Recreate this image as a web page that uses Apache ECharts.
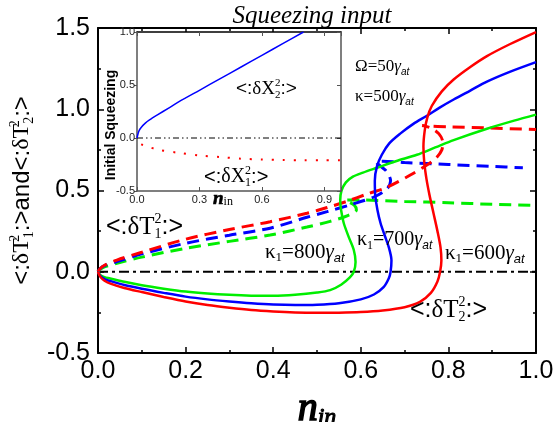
<!DOCTYPE html>
<html>
<head>
<meta charset="utf-8">
<script src="https://cdn.jsdelivr.net/npm/echarts@6/dist/echarts.min.js"></script>
<style>
html, body { margin: 0; padding: 0; background: #fff; }
#chart { width: 554px; height: 422px; }
</style>
</head>
<body>
<div id="chart"></div>
<script>
// <:dT2^2:> (solid), one S-curve per kappa1, points as [n_in, value]
var red600Solid = [[0,0],[0.005,-0.03],[0.015,-0.055],[0.03,-0.075],[0.06,-0.1],[0.1,-0.125],[0.15,-0.155],[0.2,-0.183],[0.25,-0.205],[0.3,-0.222],[0.35,-0.236],[0.4,-0.245],[0.45,-0.251],[0.5,-0.253],[0.55,-0.252],[0.6,-0.248],[0.65,-0.238],[0.7,-0.218],[0.735,-0.185],[0.76,-0.13],[0.775,-0.06],[0.781,0],[0.784,0.07],[0.782,0.15],[0.775,0.25],[0.766,0.36],[0.757,0.47],[0.75,0.57],[0.745,0.67],[0.743,0.77],[0.746,0.87],[0.752,0.95],[0.762,1.02],[0.785,1.11],[0.812,1.183],[0.85,1.26],[0.888,1.327],[0.94,1.4],[1.0,1.475]];
var blue700Solid = [[0,0],[0.005,-0.025],[0.015,-0.045],[0.028,-0.057],[0.06,-0.082],[0.1,-0.105],[0.15,-0.13],[0.2,-0.153],[0.25,-0.17],[0.3,-0.183],[0.35,-0.194],[0.4,-0.202],[0.45,-0.205],[0.5,-0.203],[0.55,-0.194],[0.6,-0.17],[0.63,-0.14],[0.652,-0.095],[0.664,-0.04],[0.668,0],[0.67,0.07],[0.664,0.15],[0.655,0.22],[0.645,0.3],[0.638,0.38],[0.633,0.47],[0.632,0.56],[0.637,0.65],[0.648,0.72],[0.665,0.79],[0.69,0.85],[0.72,0.91],[0.751,0.96],[0.78,1.01],[0.812,1.06],[0.85,1.115],[0.888,1.17],[0.94,1.23],[1.0,1.29]];
var green800Solid = [[0,0],[0.005,-0.02],[0.015,-0.033],[0.028,-0.041],[0.06,-0.062],[0.1,-0.083],[0.15,-0.104],[0.2,-0.122],[0.25,-0.134],[0.3,-0.142],[0.35,-0.147],[0.4,-0.148],[0.45,-0.142],[0.5,-0.128],[0.53,-0.113],[0.555,-0.08],[0.575,-0.035],[0.584,0],[0.588,0.06],[0.584,0.134],[0.573,0.21],[0.561,0.3],[0.555,0.38],[0.553,0.44],[0.556,0.5],[0.566,0.55],[0.582,0.585],[0.605,0.61],[0.637,0.64],[0.68,0.68],[0.728,0.72],[0.77,0.765],[0.812,0.81],[0.888,0.88],[0.95,0.93],[1.0,0.967]];

// <:dT1^2:> (dashed)
var red600Dash = [[0,0],[0.005,0.02],[0.015,0.04],[0.043,0.072],[0.1,0.12],[0.2,0.2],[0.3,0.26],[0.393,0.308],[0.477,0.36],[0.523,0.395],[0.57,0.435],[0.614,0.478],[0.66,0.52],[0.713,0.595],[0.75,0.655],[0.772,0.7],[0.785,0.75],[0.787,0.8],[0.778,0.85],[0.76,0.885],[0.74,0.9],[0.75,0.897],[0.8,0.892],[0.888,0.885],[1.0,0.875]];
var blue700Dash = [[0,0],[0.005,0.02],[0.015,0.038],[0.043,0.062],[0.1,0.11],[0.2,0.175],[0.3,0.225],[0.393,0.268],[0.477,0.335],[0.523,0.37],[0.58,0.415],[0.63,0.46],[0.66,0.51],[0.668,0.56],[0.658,0.62],[0.635,0.675],[0.65,0.68],[0.7,0.672],[0.8,0.66],[0.9,0.648],[0.97,0.64]];
var green800Dash = [[0,0],[0.005,0.015],[0.015,0.03],[0.043,0.052],[0.1,0.09],[0.2,0.144],[0.3,0.187],[0.393,0.226],[0.477,0.275],[0.53,0.31],[0.57,0.345],[0.59,0.38],[0.585,0.41],[0.565,0.44],[0.6,0.442],[0.7,0.432],[0.8,0.425],[0.9,0.415],[1.0,0.408]];
var zeroLine = [[0,0],[1,0]];

// inset: initial squeezing
var insetX2 = [[0,0],[0.005,0.04],[0.01,0.07],[0.02,0.1],[0.04,0.14],[0.06,0.17],[0.1,0.22],[0.15,0.28],[0.2,0.34],[0.3,0.45],[0.4,0.56],[0.5,0.67],[0.6,0.78],[0.7,0.89],[0.8,1.0]];
var insetX1 = [[0.02,-0.06],[0.05,-0.08],[0.1,-0.11],[0.2,-0.14],[0.3,-0.165],[0.4,-0.18],[0.5,-0.195],[0.6,-0.203],[0.7,-0.207],[0.8,-0.21],[0.9,-0.21],[0.98,-0.21]];
var insetZero = [[0,0],[0.98,0]];

var SANS = 'Liberation Sans';
var SERIF = 'Liberation Serif';
var RED = '#ff0000', BLUE = '#0000ff', GREEN = '#00ee00';

var chart = echarts.init(document.getElementById('chart'));

// rich styles for <:dT:> style labels with stacked sup/sub
function bracketRich(size) {
  var small = Math.round(size * 0.58);
  return {
    s: { fontFamily: SANS, fontSize: size, color: '#000', lineHeight: size + 4 },
    g: { fontFamily: SERIF, fontSize: size, color: '#000', lineHeight: size + 4 },
    sp: { fontFamily: SERIF, fontSize: small, color: '#000', verticalAlign: 'top', lineHeight: small, width: 0 },
    sb: { fontFamily: SERIF, fontSize: small, color: '#000', verticalAlign: 'bottom', lineHeight: small }
  };
}
function bracket(letter, sup, sub) {
  return '{s|<:}{g|δ' + letter + '}{sp|' + sup + '}{sb|' + sub + '}{s|:>}';
}
function kappaRich(size, color) {
  var small = Math.round(size * 0.6);
  return {
    k: { fontFamily: SERIF, fontSize: size, color: color, lineHeight: size + 4 },
    g: { fontFamily: SERIF, fontSize: size, fontStyle: 'italic', color: color, lineHeight: size + 4 },
    sb: { fontFamily: SERIF, fontSize: small, color: color, verticalAlign: 'bottom', lineHeight: small },
    at: { fontFamily: SANS, fontSize: small, fontStyle: 'italic', color: color, verticalAlign: 'bottom', lineHeight: small }
  };
}
function textEl(x, y, text, rich, align) {
  return {
    type: 'text', x: x, y: y, z: 100,
    style: { text: text, rich: rich, align: align || 'left', textAlign: align || 'left', verticalAlign: 'middle', textVerticalAlign: 'middle' }
  };
}

var fmt1 = function (v) { return v.toFixed(1); };
var insetFmt = function (v) {
  var k = Math.round(v / 0.3);
  return Math.abs(v - k * 0.3) < 1e-6 ? v.toFixed(1) : '';
};

var mainAxisLine = { show: true, onZero: false, lineStyle: { color: '#000', width: 2 } };
var mainTick = { show: true, inside: true, length: 6, lineStyle: { color: '#000', width: 1.5 } };
var mainMinor = { show: true, splitNumber: 2, length: 3, lineStyle: { color: '#000', width: 1.5 } };
var insetLine = { show: true, onZero: false, lineStyle: { color: '#555', width: 1.5 } };
var insetTick = { show: true, inside: true, length: 4, lineStyle: { color: '#555', width: 1 } };

var option = {
  backgroundColor: '#fff',
  animation: false,
  title: {
    text: 'Squeezing input', left: 307, top: -1, textAlign: 'center',
    textStyle: { fontFamily: SERIF, fontStyle: 'italic', fontWeight: 'normal', fontSize: 25, color: '#000' }
  },
  grid: [
    { left: 98, right: 18, top: 28, bottom: 69, outerBoundsMode: 'none' },
    { left: 137, right: 213, top: 32, bottom: 231, outerBoundsMode: 'none', show: true, backgroundColor: '#fff', borderWidth: 0, z: 5 }
  ],
  xAxis: [
    {
      type: 'value', gridIndex: 0, min: 0, max: 1, interval: 0.2, position: 'bottom',
      axisLine: mainAxisLine, axisTick: mainTick, minorTick: mainMinor, splitLine: { show: false },
      axisLabel: { fontFamily: SANS, fontSize: 25, color: '#000', margin: 6, formatter: fmt1 },
      name: '{n|n}{s|in}', nameLocation: 'middle', nameGap: 21,
      nameTextStyle: {
        rich: {
          n: { fontFamily: SERIF, fontSize: 40, fontStyle: 'italic', color: '#000', textBorderColor: '#000', textBorderWidth: 1.6, lineHeight: 40 },
          s: { fontFamily: SERIF, fontSize: 24, fontStyle: 'italic', color: '#000', textBorderColor: '#000', textBorderWidth: 1, verticalAlign: 'bottom', lineHeight: 22 }
        }
      }
    },
    {
      type: 'value', gridIndex: 0, min: 0, max: 1, interval: 0.2, position: 'top',
      axisLine: mainAxisLine, axisTick: mainTick, minorTick: mainMinor, splitLine: { show: false },
      axisLabel: { show: false }
    },
    {
      type: 'value', gridIndex: 1, min: 0, max: 0.98, interval: 0.3, position: 'bottom', z: 6,
      axisLine: insetLine, axisTick: insetTick, splitLine: { show: false },
      axisLabel: { fontFamily: SANS, fontSize: 11, color: '#222', margin: 3, formatter: insetFmt }
    },
    {
      type: 'value', gridIndex: 1, min: 0, max: 0.98, interval: 0.3, position: 'top', z: 6,
      axisLine: { show: true, onZero: false, lineStyle: { color: '#000', width: 1.5 } }, axisTick: insetTick, splitLine: { show: false },
      axisLabel: { show: false }
    }
  ],
  yAxis: [
    {
      type: 'value', gridIndex: 0, min: -0.5, max: 1.5, interval: 0.5, position: 'left',
      axisLine: mainAxisLine, axisTick: mainTick, minorTick: mainMinor, splitLine: { show: false },
      axisLabel: { fontFamily: SANS, fontSize: 25, color: '#000', margin: 8, formatter: fmt1 },
      name: bracket('T', '2', '1') + '{s|and}' + bracket('T', '2', '2'),
      nameLocation: 'middle', nameGap: 44, nameRotate: 90,
      nameTextStyle: { rich: bracketRich(24) }
    },
    {
      type: 'value', gridIndex: 0, min: -0.5, max: 1.5, interval: 0.5, position: 'right',
      axisLine: mainAxisLine, axisTick: mainTick, minorTick: mainMinor, splitLine: { show: false },
      axisLabel: { show: false }
    },
    {
      type: 'value', gridIndex: 1, min: -0.5, max: 1.0, interval: 0.5, position: 'left', z: 6,
      axisLine: insetLine, axisTick: { show: true, inside: false, length: 3, lineStyle: { color: '#555' } }, splitLine: { show: false },
      axisLabel: { fontFamily: SANS, fontSize: 11, color: '#222', margin: 2, formatter: fmt1 }
    },
    {
      type: 'value', gridIndex: 1, min: -0.5, max: 1.0, interval: 0.5, position: 'right', z: 6,
      axisLine: insetLine, axisTick: insetTick, splitLine: { show: false },
      axisLabel: { show: false }
    }
  ],
  series: [
    { type: 'line', xAxisIndex: 0, yAxisIndex: 0, data: zeroLine, showSymbol: false, lineStyle: { color: '#000', width: 2, type: [10, 4, 3, 4] } },
    { type: 'line', xAxisIndex: 0, yAxisIndex: 0, data: green800Dash, showSymbol: false, smooth: 0.3, lineStyle: { color: GREEN, width: 3, type: [12, 7] } },
    { type: 'line', xAxisIndex: 0, yAxisIndex: 0, data: blue700Dash, showSymbol: false, smooth: 0.3, lineStyle: { color: BLUE, width: 3, type: [12, 7] } },
    { type: 'line', xAxisIndex: 0, yAxisIndex: 0, data: red600Dash, showSymbol: false, smooth: 0.3, lineStyle: { color: RED, width: 3, type: [12, 7] } },
    { type: 'line', xAxisIndex: 0, yAxisIndex: 0, data: green800Solid, showSymbol: false, smooth: 0.3, lineStyle: { color: GREEN, width: 2.5 } },
    { type: 'line', xAxisIndex: 0, yAxisIndex: 0, data: blue700Solid, showSymbol: false, smooth: 0.3, lineStyle: { color: BLUE, width: 2.5 } },
    { type: 'line', xAxisIndex: 0, yAxisIndex: 0, data: red600Solid, showSymbol: false, smooth: 0.3, lineStyle: { color: RED, width: 2.5 } },
    { type: 'line', xAxisIndex: 2, yAxisIndex: 2, data: insetZero, showSymbol: false, z: 7, lineStyle: { color: '#000', width: 1, type: [6, 3, 1.5, 3, 1.5, 3] } },
    { type: 'line', xAxisIndex: 2, yAxisIndex: 2, data: insetX2, showSymbol: false, smooth: 0.3, z: 7, lineStyle: { color: BLUE, width: 1.5 } },
    { type: 'line', xAxisIndex: 2, yAxisIndex: 2, data: insetX1, showSymbol: false, smooth: 0.3, z: 7, lineStyle: { color: RED, width: 2, type: [2, 9] } }
  ],
  graphic: [
    textEl(355, 67, '{k|Ω=50}{g|γ}{at|at}', kappaRich(17, '#000')),
    textEl(355, 97, '{k|κ=500}{g|γ}{at|at}', kappaRich(17, '#000')),
    textEl(106, 227, bracket('T', '2', '1'), bracketRich(25)),
    textEl(410, 310, bracket('T', '2', '2'), bracketRich(25)),
    textEl(265, 252, '{k|κ}{sb|1}{k|=800}{g|γ}{at|at}', kappaRich(21, GREEN)),
    textEl(357, 240, '{k|κ}{sb|1}{k|=700}{g|γ}{at|at}', kappaRich(20, BLUE)),
    textEl(445, 253, '{k|κ}{sb|1}{k|=600}{g|γ}{at|at}', kappaRich(21, RED)),
    textEl(236, 89, bracket('X', '2', '2'), bracketRich(19)),
    textEl(204, 177, bracket('X', '2', '1'), bracketRich(20)),
    {
      type: 'text', x: 111, y: 125, rotation: Math.PI / 2, z: 100,
      style: { text: 'Initial Squeezing', font: 'bold 14px "Liberation Sans"', fill: '#000', align: 'center', textAlign: 'center', verticalAlign: 'middle', textVerticalAlign: 'middle' }
    },
    textEl(213, 199, '{n|n}{s|in}', {
      n: { fontFamily: SERIF, fontSize: 19, fontStyle: 'italic', fontWeight: 'bold', color: '#000', stroke: '#000', lineWidth: 0.6, lineHeight: 18 },
      s: { fontFamily: SERIF, fontSize: 12, color: '#000', verticalAlign: 'bottom', lineHeight: 10 }
    })
  ]
};

chart.setOption(option);
</script>
</body>
</html>
